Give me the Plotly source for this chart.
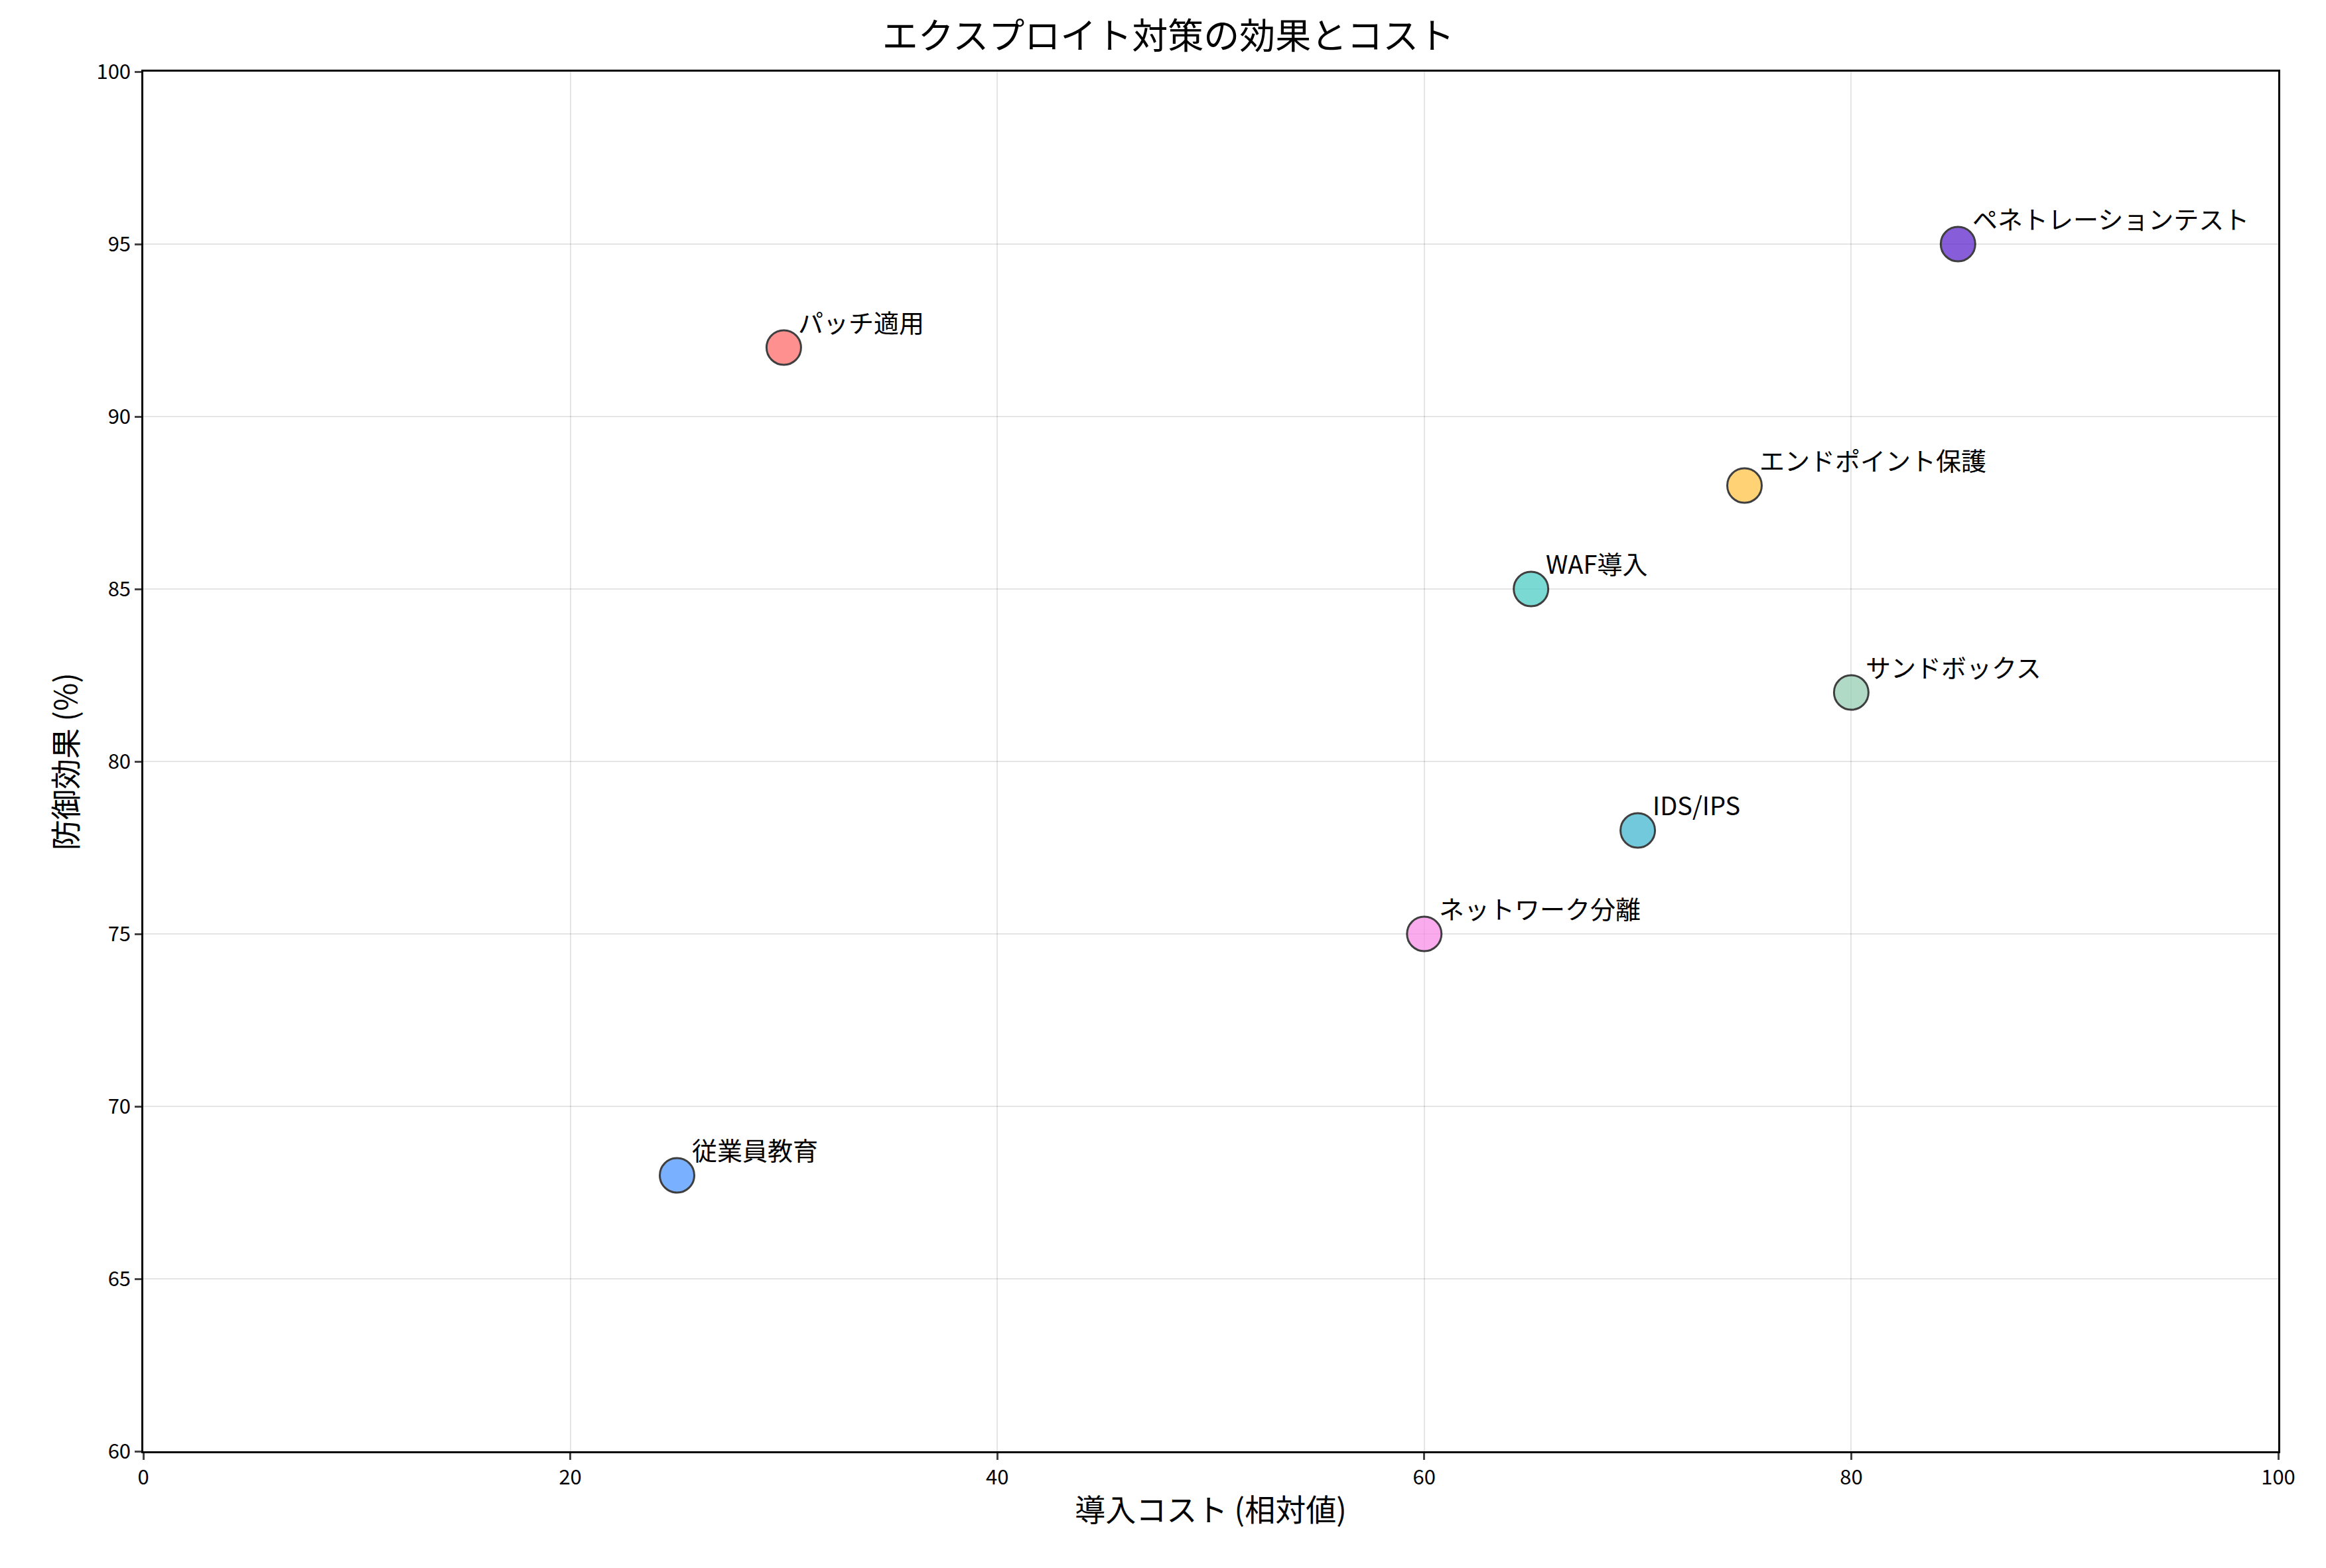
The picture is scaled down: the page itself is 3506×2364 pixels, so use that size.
import plotly.graph_objects as go

measures = ["パッチ適用", "WAF導入", "IDS/IPS", "エンドポイント保護",
            "サンドボックス", "従業員教育", "ネットワーク分離", "ペネトレーションテスト"]
cost = [30, 65, 70, 75, 80, 25, 60, 85]
effect = [92, 85, 78, 88, 82, 68, 75, 95]
colors = ["#FF6B6B", "#4ECDC4", "#45B7D1", "#FFC547",
          "#96CEB4", "#4D96FF", "#F78FE8", "#5F27CD"]

font = "Noto Sans CJK JP"

fig = go.Figure()
fig.add_trace(go.Scatter(
    x=cost, y=effect, mode="markers",
    marker=dict(size=52, color=colors, opacity=0.75,
                line=dict(color="black", width=3)),
    showlegend=False,
))
for m, x, y in zip(measures, cost, effect):
    fig.add_annotation(x=x, y=y, text=m, showarrow=False,
                       xanchor="left", yanchor="bottom", xshift=20, yshift=10,
                       font=dict(size=38, color="black", family=font))

axis = dict(showline=True, linecolor="black", linewidth=2.5, mirror=True,
            showgrid=True, gridcolor="rgba(0,0,0,0.1)", gridwidth=2,
            ticks="outside", ticklen=10, tickwidth=2.5, zeroline=False,
            tickfont=dict(size=31, color="black", family=font))
fig.update_xaxes(range=[0, 100], dtick=20,
                 title=dict(text="導入コスト (相対値)", font=dict(size=46, family=font)), **axis)
fig.update_yaxes(range=[60, 100], dtick=5,
                 title=dict(text="防御効果 (%)", font=dict(size=46, family=font)), **axis)
fig.update_layout(
    width=3506, height=2364,
    title=dict(text="エクスプロイト対策の効果とコスト", x=0.5, xanchor="center", y=0.988,
               font=dict(size=54, color="black", family=font)),
    plot_bgcolor="white", paper_bgcolor="white",
    margin=dict(l=208, r=80, t=100, b=184),
    font=dict(family=font, color="black"),
)
fig.write_html("out.html")
